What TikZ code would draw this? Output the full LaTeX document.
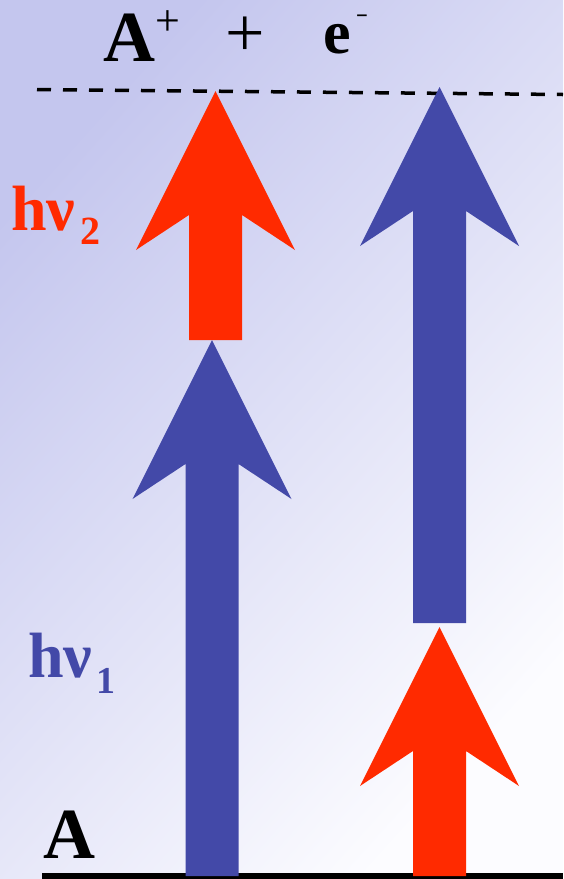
\documentclass[tikz,border=0pt]{standalone}
\usepackage{graphicx}
\usepackage{fontspec}
\setmainfont{Liberation Serif}
\definecolor{arrblue}{RGB}{67,73,168}
\definecolor{arrred}{RGB}{255,42,0}
\definecolor{bgtop}{RGB}{196,198,238}
\definecolor{bgbot}{RGB}{252,252,255}
\newcommand{\fatarrow}[4]{% #1 centre x, #2 tip y, #3 bottom y, #4 colour
  \fill[#4] (#1,#2) -- (#1+79.5,#2+159) -- (#1+26.5,#2+124) -- (#1+26.5,#3)
    -- (#1-26.5,#3) -- (#1-26.5,#2+124) -- (#1-79.5,#2+159) -- cycle;}
\newcommand{\fsz}[1]{\fontsize{#1}{#1}\selectfont}
\begin{document}
\begin{tikzpicture}[x=1pt,y=-1pt,
  txt/.style={inner sep=0pt,outer sep=0pt,font=\bfseries},
  level/.style={line width=3.5pt,dash pattern=on 14pt off 12pt},
  ground/.style={line width=6.5pt}]
\useasboundingbox (0,0) rectangle (563,879);
\shade[top color=bgtop,bottom color=bgbot,shading angle=48] (0,0) rectangle (563,879);
% levels
\coordinate (lvlL) at (37,89.5);
\coordinate (lvlR) at (563,94.5);
\draw[level] (lvlL) -- (lvlR);
\coordinate (gndL) at (42,876);
\coordinate (gndR) at (563,876);
\draw[ground] (gndL) -- (gndR);
% arrows
\fatarrow{215.5}{91}{340}{arrred}
\fatarrow{212}{340}{876}{arrblue}
\fatarrow{439.5}{87}{623}{arrblue}
\fatarrow{439.5}{627}{876}{arrred}
% texts
\node[txt,font=\bfseries\fsz{72}] (Aion) at (129,37.5) {A};
\node[txt,font=\fsz{44}] (supplus) at (167.5,23.5) {+};
\node[txt,font=\fsz{70}] (plus) at (245.5,37) {+};
\node[txt,font=\bfseries\fsz{62}] (elec) at (337.5,39.5) {e};
\node[txt,font=\bfseries\fsz{20},anchor=base] (supminus) at (362,20.7) {\scalebox{1.85}[1]{-}};
\node[txt,font=\bfseries\fsz{64},text=arrred,anchor=base west] (hnu2) at (11,230) {hν};
\node[txt,font=\bfseries\fsz{40},text=arrred] (sub2) at (90,231.5) {2};
\node[txt,font=\bfseries\fsz{64},text=arrblue,anchor=base west] (hnu1) at (28,677) {hν};
\node[txt,font=\bfseries\fsz{38},text=arrblue] (sub1) at (105.5,680.5) {1};
\node[txt,font=\bfseries\fsz{72}] (Aground) at (69,834.5) {A};
\end{tikzpicture}
\end{document}
